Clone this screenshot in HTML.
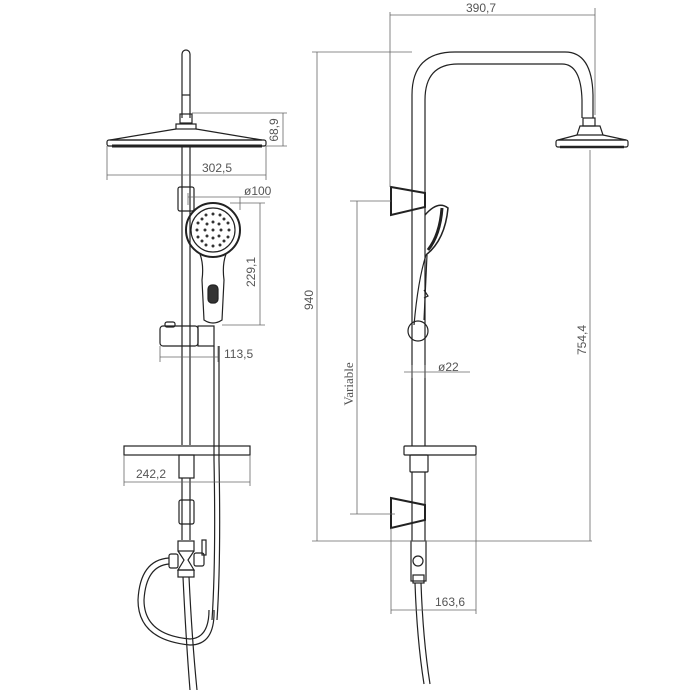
<!DOCTYPE html>
<html><head><meta charset="utf-8"><style>
html,body{margin:0;padding:0;background:#fff;}
svg{display:block}
text{font-family:"Liberation Sans",sans-serif;font-size:12px;fill:#555}
</style></head><body>
<svg width="700" height="700" viewBox="0 0 700 700" xmlns="http://www.w3.org/2000/svg">
<g fill="none" stroke="#222" stroke-width="1.2">
<path d="M182 118 V54 a4 4 0 0 1 8 0 V118"/>
<line x1="182" y1="95" x2="190" y2="95"/>
<rect x="180" y="114" width="12" height="9"/>
<rect x="176" y="124" width="20" height="5"/>
<path d="M176 129 L110 140 L262 140 L196 129"/>
<rect x="107" y="140" width="159" height="6" rx="2"/>
<path d="M112 146 h150" stroke-width="3"/>
<line x1="182" y1="146" x2="182" y2="445"/>
<line x1="190" y1="146" x2="190" y2="445"/>
<rect x="178" y="187" width="16" height="24" rx="2"/>
<circle cx="213" cy="230" r="27" stroke-width="2"/>
<circle cx="213" cy="230" r="22"/>
<path d="M200 254 Q204 265 202 280 L204 320 Q213 326 222 320 L224 280 Q222 265 226 254"/>
<rect x="208" y="285" width="10" height="18" rx="4" fill="#333"/>
<rect x="160" y="326" width="38" height="20" rx="3"/>
<rect x="198" y="326" width="16" height="20"/>
<rect x="165" y="322" width="10" height="5" rx="2"/>
<path d="M214 346 V460 Q216 560 212 620"/>
<path d="M219 346 V460 Q221 560 217 620"/>
<rect x="124" y="446" width="126" height="9"/>
<rect x="179" y="455" width="15" height="23"/>
<line x1="182" y1="478" x2="182" y2="540"/>
<line x1="190" y1="478" x2="190" y2="540"/>
<rect x="179" y="500" width="15" height="24" rx="2"/>
<rect x="178" y="541" width="16" height="10"/>
<path d="M178 551 L184 560 L178 570 H194 L188 560 L194 551"/>
<rect x="178" y="570" width="16" height="7"/>
<rect x="194" y="553" width="10" height="13" rx="2"/>
<rect x="202" y="540" width="4" height="15"/>
<rect x="169" y="554" width="9" height="14" rx="2"/>
<path d="M169 558 Q140 560 138 600 Q138 640 190 645 Q215 645 214 610"/>
<path d="M169 564 Q146 566 144 600 Q144 635 190 639 Q209 638 209 610"/>
<path d="M183 577 Q186 640 190 690"/>
<path d="M189 577 Q192 640 197 690"/>
</g>
<g fill="#333">
<circle cx="213" cy="230" r="1.5"/>
<circle cx="213" cy="222" r="1.5"/><circle cx="213" cy="238" r="1.5"/><circle cx="205" cy="230" r="1.5"/><circle cx="221" cy="230" r="1.5"/>
<circle cx="207" cy="224" r="1.5"/><circle cx="219" cy="224" r="1.5"/><circle cx="207" cy="236" r="1.5"/><circle cx="219" cy="236" r="1.5"/>
<circle cx="213" cy="214" r="1.5"/><circle cx="213" cy="246" r="1.5"/><circle cx="197" cy="230" r="1.5"/><circle cx="229" cy="230" r="1.5"/>
<circle cx="202" cy="219" r="1.5"/><circle cx="224" cy="219" r="1.5"/><circle cx="202" cy="241" r="1.5"/><circle cx="224" cy="241" r="1.5"/>
<circle cx="206" cy="215" r="1.5"/><circle cx="220" cy="215" r="1.5"/><circle cx="206" cy="245" r="1.5"/><circle cx="220" cy="245" r="1.5"/>
<circle cx="198" cy="223" r="1.5"/><circle cx="228" cy="223" r="1.5"/><circle cx="198" cy="237" r="1.5"/><circle cx="228" cy="237" r="1.5"/>
</g>
<g fill="none" stroke="#666" stroke-width="0.8">
<line x1="192" y1="113" x2="287" y2="113"/><line x1="266" y1="146" x2="287" y2="146"/>
<line x1="283" y1="113" x2="283" y2="146"/>
<line x1="107" y1="146" x2="107" y2="180"/><line x1="266" y1="146" x2="266" y2="180"/>
<line x1="107" y1="175" x2="266" y2="175"/>
<line x1="188" y1="197" x2="270" y2="197"/><line x1="188" y1="193" x2="188" y2="205"/><line x1="240" y1="197" x2="240" y2="210"/>
<line x1="230" y1="203" x2="265" y2="203"/><line x1="222" y1="325" x2="265" y2="325"/>
<line x1="260" y1="203" x2="260" y2="325"/>
<line x1="160" y1="346" x2="160" y2="362"/><line x1="218" y1="346" x2="218" y2="362"/>
<line x1="160" y1="357" x2="218" y2="357"/>
<line x1="124" y1="455" x2="124" y2="486"/><line x1="250" y1="455" x2="250" y2="486"/>
<line x1="124" y1="482" x2="250" y2="482"/>
</g>
<text x="202" y="172">302,5</text>
<text x="244" y="195">ø100</text>
<text x="224" y="358">113,5</text>
<text x="136" y="478">242,2</text>
<text transform="translate(278,130) rotate(-90)" text-anchor="middle">68,9</text>
<text transform="translate(255,272) rotate(-90)" text-anchor="middle">229,1</text>

<g fill="none" stroke="#222" stroke-width="1.2">
<path d="M412 446 V95 Q412 52 455 52 H565 Q592 52 593 95 V118"/>
<path d="M425 446 V100 Q425 64 458 64 H562 Q581 64 582 100 V118"/>
<rect x="583" y="118" width="12" height="8"/>
<path d="M580 126 H600 L603 135 H577 Z"/>
<path d="M577 135 L558 140 H626 L603 135"/>
<rect x="556" y="140" width="72" height="7" rx="2"/>
<path d="M560 147 h64" stroke-width="2.5"/>
<path d="M391 187 L425 193 V207 L391 215 Z" stroke-width="2"/>
<path d="M425 215 Q438 200 448 208 Q445 240 426 255" stroke-width="1.5"/>
<path d="M442 208 Q440 235 428 250" stroke-width="3"/>
<path d="M426 255 Q418 280 414 325"/>
<path d="M427 255 L424 320"/>
<path d="M424 290 l4 6 l-4 2"/>
<circle cx="418" cy="331" r="10"/>
<rect x="404" y="446" width="72" height="9" rx="1"/>
<rect x="410" y="455" width="18" height="17" rx="1"/>
<line x1="412" y1="472" x2="412" y2="541"/><line x1="425" y1="472" x2="425" y2="541"/>
<path d="M391 498 L425 505 V520 L391 528 Z" stroke-width="2"/>
<rect x="411" y="541" width="15" height="40"/>
<circle cx="418" cy="561" r="5"/>
<rect x="413" y="575" width="11" height="8"/>
<path d="M415 583 Q417 640 424 684"/>
<path d="M421 583 Q423 640 430 684"/>
</g>
<g fill="none" stroke="#666" stroke-width="0.8">
<line x1="390" y1="12" x2="390" y2="187"/><line x1="595" y1="8" x2="595" y2="115"/>
<line x1="390" y1="15" x2="595" y2="15"/>
<line x1="312" y1="52" x2="412" y2="52"/>
<line x1="317" y1="52" x2="317" y2="541"/>
<line x1="312" y1="541" x2="592" y2="541"/>
<line x1="590" y1="150" x2="590" y2="541"/>
<line x1="350" y1="201" x2="391" y2="201"/><line x1="350" y1="514" x2="395" y2="514"/>
<line x1="357" y1="201" x2="357" y2="514"/>
<line x1="404" y1="372" x2="470" y2="372"/><line x1="412" y1="365" x2="412" y2="378"/><line x1="425" y1="365" x2="425" y2="378"/>
<line x1="391" y1="528" x2="391" y2="614"/><line x1="476" y1="455" x2="476" y2="614"/>
<line x1="391" y1="610" x2="476" y2="610"/>
</g>
<text x="466" y="12">390,7</text>
<text x="438" y="371">ø22</text>
<text x="435" y="606">163,6</text>
<text transform="translate(313,300) rotate(-90)" text-anchor="middle">940</text>
<text transform="translate(586,340) rotate(-90)" text-anchor="middle">754,4</text>
<text transform="translate(353,384) rotate(-90)" text-anchor="middle" style="font-family:'Liberation Serif',serif;font-size:13px">Variable</text>
</svg>
</body></html>
